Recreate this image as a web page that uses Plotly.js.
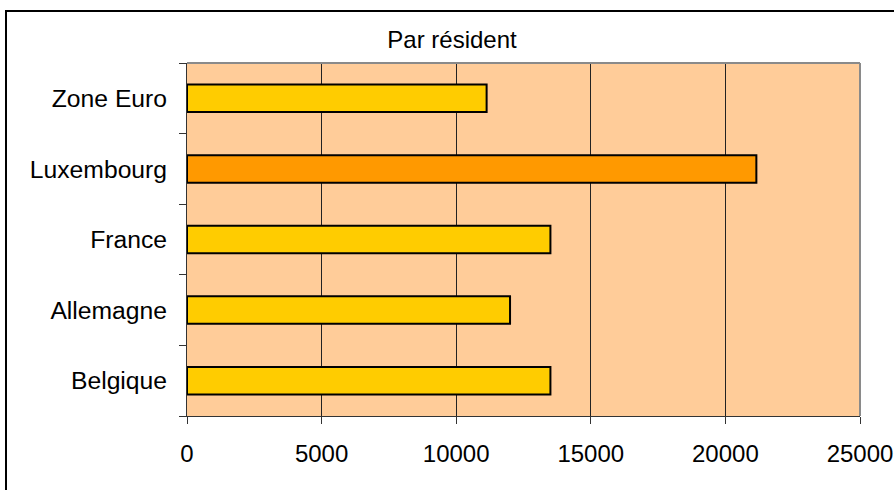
<!DOCTYPE html>
<html>
<head>
<meta charset="utf-8">
<script src="https://cdn.plot.ly/plotly-3.0.1.min.js"></script>
<style>
html,body{margin:0;padding:0;background:#fff;overflow:hidden;}
#chart{width:894px;height:490px;position:absolute;left:0;top:0;}
#frame{position:absolute;left:5px;top:10px;width:1000px;height:1000px;border-left:2px solid #000;border-top:2px solid #000;pointer-events:none;}
</style>
</head>
<body>
<div id="chart"></div>
<div id="frame"></div>
<script>
const categories = ['Belgique', 'Allemagne', 'France', 'Luxembourg', 'Zone Euro'];
const values = [13500, 12000, 13500, 21150, 11130];
const barColors = ['#FFCC00', '#FFCC00', '#FFCC00', '#FF9900', '#FFCC00'];
const xTicks = [0, 5000, 10000, 15000, 20000, 25000];

const font = 'Liberation Sans, Arial, sans-serif';

const trace = {
  type: 'bar',
  orientation: 'h',
  y: categories,
  x: values,
  marker: {color: barColors, line: {color: '#000', width: 2}},
  hoverinfo: 'x+y'
};

const layout = {
  width: 894, height: 490,
  margin: {l: 187, r: 34, t: 63, b: 74, pad: 0},
  paper_bgcolor: '#ffffff',
  plot_bgcolor: '#FFCC99',
  showlegend: false,
  bargap: 0.61,
  title: {text: 'Par résident', x: 452/894, xref: 'container', xanchor: 'center', y: 1 - 40/490, yref: 'container', yanchor: 'middle', font: {family: font, size: 24, color: '#000'}},
  xaxis: {
    range: [0, 25000], tickvals: xTicks, ticktext: xTicks.map(String),
    showgrid: true, gridcolor: '#222', gridwidth: 1,
    zeroline: false, showline: true, linecolor: '#333', linewidth: 1,
    ticks: 'outside', ticklen: 7, tickcolor: '#333', tickwidth: 1,
    ticklabelstandoff: 9,
    tickfont: {family: font, size: 24, color: '#000'}, fixedrange: true
  },
  yaxis: {
    type: 'category', categoryorder: 'array', categoryarray: categories,
    showgrid: false, zeroline: false, showline: true, linecolor: '#333', linewidth: 1,
    ticks: 'outside', ticklen: 7, tickcolor: '#333', tickwidth: 1, tickson: 'boundaries',
    ticklabelstandoff: 14,
    tickfont: {family: font, size: 24.7, color: '#000'}, fixedrange: true
  },
  shapes: [
    {type: 'line', xref: 'paper', yref: 'paper', x0: 0, x1: 1, y0: 1, y1: 1, line: {color: '#8a8a8a', width: 2}, layer: 'above'},
    {type: 'line', xref: 'paper', yref: 'paper', x0: 1, x1: 1, y0: 0, y1: 1, line: {color: '#8a8a8a', width: 2}, layer: 'above'}
  ]
};

Plotly.newPlot('chart', [trace], layout, {staticPlot: true, displayModeBar: false});
</script>
</body>
</html>
